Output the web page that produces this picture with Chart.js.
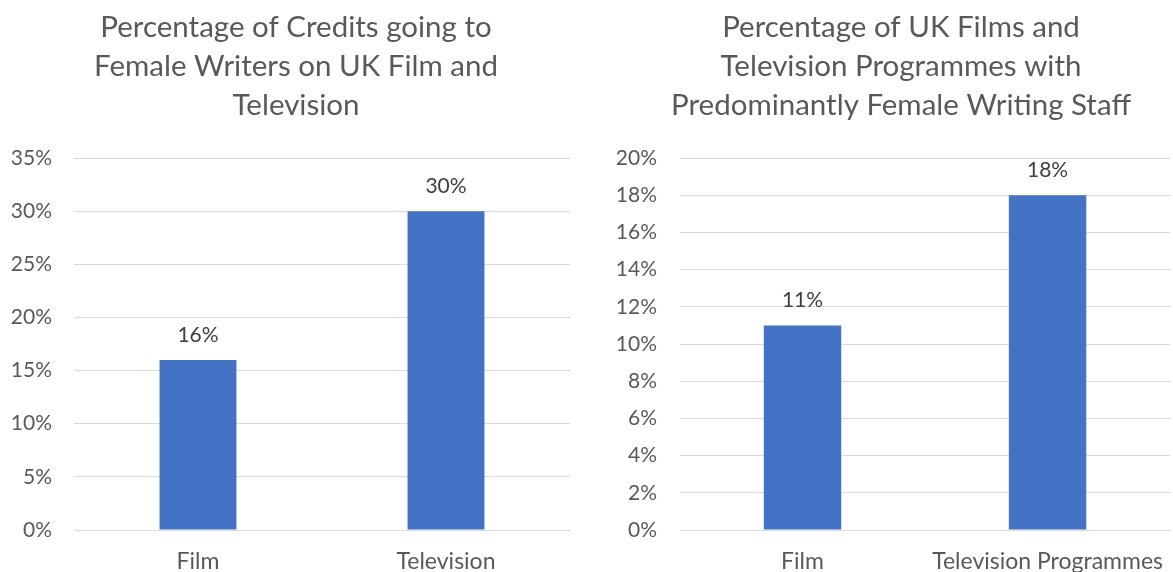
<!DOCTYPE html>
<html>
<head>
<meta charset="utf-8">
<script src="https://cdn.jsdelivr.net/npm/chart.js@4.4.1/dist/chart.umd.min.js"></script>
<style>
  html, body { margin: 0; padding: 0; background: #fff; overflow: hidden; }
  #wrap { position: relative; width: 1173px; height: 572px; }
  .box { position: absolute; top: 0; height: 572px; }
  #left { left: 0; width: 580px; }
  #right { left: 595px; width: 578px; }
</style>
</head>
<body>
<div id="wrap">
  <div class="box" id="left"><canvas id="credits"></canvas></div>
  <div class="box" id="right"><canvas id="staff"></canvas></div>
</div>
<script>
// chart 1: share of credits
const creditTitle = ['Percentage of Credits going to', 'Female Writers on UK Film and', 'Television'];
const creditCategories = ['Film', 'Television'];
const creditValues = [16, 30];
const creditTicks = [0, 5, 10, 15, 20, 25, 30, 35];

// chart 2: predominantly female writing staff
const staffTitle = ['Percentage of UK Films and', 'Television Programmes with', 'Predominantly Female Writing Staff'];
const staffCategories = ['Film', 'Television Programmes'];
const staffValues = [11, 18];
const staffTicks = [0, 2, 4, 6, 8, 10, 12, 14, 16, 18, 20];

const FONT = 'Lato';
const TEXT = '#595959';
const BAR = '#4472C4';
const GRID = '#d9d9d9';

// value labels above the bars
const valueLabels = {
    id: 'valueLabels',
    afterDatasetsDraw ( chart, args, opts ) {
        const ctx = chart.ctx;
        const meta = chart.getDatasetMeta( 0 );
        const data = chart.data.datasets[ 0 ].data;
        ctx.save();
        ctx.font = `${ opts.size || 20 }px ${ FONT }`;
        ctx.fillStyle = '#404040';
        ctx.textAlign = 'center';
        ctx.textBaseline = 'middle';
        meta.data.forEach( ( bar, i ) => {
            ctx.fillText( data[ i ] + '%', bar.x, bar.y - 25 );
        } );
        ctx.restore();
    }
};

// title is centred over the whole excel chart, not the canvas box
const titleCenter = {
    id: 'titleCenter',
    afterLayout ( chart, args, opts ) {
        const tb = chart.titleBlock;
        if ( !tb || opts.x == null ) return;
        const half = ( tb.right - tb.left ) / 2;
        tb.left = opts.x - half;
        tb.right = opts.x + half;
    }
};

function makeChart ( id, title, cats, vals, ticks, cfg ) {
    const ctx = document.getElementById( id ).getContext( '2d' );
    return new Chart( ctx, {
        type: 'bar',
        data: {
            labels: cats,
            datasets: [ {
                data: vals,
                backgroundColor: BAR,
                borderWidth: 0,
                categoryPercentage: 1,
                barPercentage: cfg.barPct
            } ]
        },
        options: {
            responsive: true,
            maintainAspectRatio: false,
            animation: false,
            layout: { padding: { top: 0, right: cfg.padRight, bottom: 0, left: 0 } },
            scales: {
                y: {
                    min: ticks[ 0 ],
                    max: ticks[ ticks.length - 1 ],
                    afterBuildTicks: s => { s.ticks = ticks.map( v => ( { value: v } ) ); },
                    afterFit: s => { s.width = cfg.axisWidth; },
                    border: { display: false },
                    grid: { color: GRID, lineWidth: 1, drawTicks: false },
                    ticks: {
                        padding: cfg.tickPad,
                        color: TEXT,
                        font: { family: FONT, size: 21 },
                        callback: v => v + '%'
                    }
                },
                x: {
                    afterFit: s => { s.height = 42; },
                    grid: { display: false },
                    border: { display: false },
                    ticks: {
                        padding: 10,
                        color: TEXT,
                        maxRotation: 0,
                        font: { family: FONT, size: 23 }
                    }
                }
            },
            plugins: {
                legend: { display: false },
                tooltip: { enabled: false },
                title: {
                    display: true,
                    text: title,
                    color: TEXT,
                    font: { family: FONT, size: 29.5, weight: 'normal', lineHeight: 39 / 29.5 },
                    padding: { top: 8, bottom: 33 }
                },
                titleCenter: { x: cfg.titleX },
                valueLabels: { size: 21 }
            }
        },
        plugins: [ valueLabels, titleCenter ]
    } );
}

makeChart( 'credits', creditTitle, creditCategories, creditValues, creditTicks,
    { barPct: 0.31, axisWidth: 74, tickPad: 22, padRight: 10, titleX: 296 } );
makeChart( 'staff', staffTitle, staffCategories, staffValues, staffTicks,
    { barPct: 0.316, axisWidth: 85, tickPad: 23, padRight: 0, titleX: 306 } );
</script>
</body>
</html>
